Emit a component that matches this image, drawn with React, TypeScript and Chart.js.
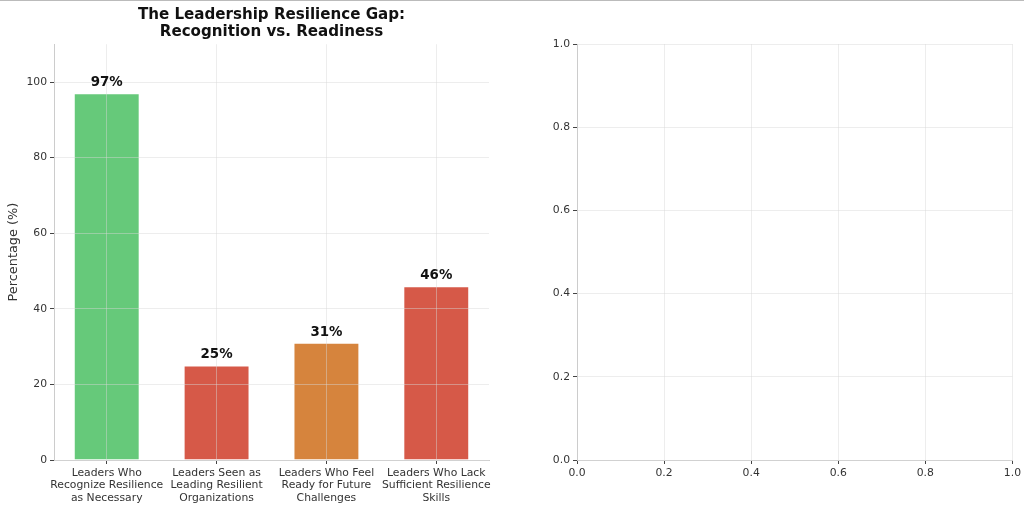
import { useEffect, useRef } from 'react';
import { Chart, registerables } from 'chart.js';

Chart.register(...registerables);

const categories = [
  ['Leaders Who', 'Recognize Resilience', 'as Necessary'],
  ['Leaders Seen as', 'Leading Resilient', 'Organizations'],
  ['Leaders Who Feel', 'Ready for Future', 'Challenges'],
  ['Leaders Who Lack', 'Sufficient Resilience', 'Skills'],
];
const percentages = [97, 25, 31, 46];
const barColors = ['rgb(102, 201, 122)', 'rgb(214, 89, 72)', 'rgb(214, 132, 61)', 'rgb(214, 89, 72)'];
const percentTicks = [0, 20, 40, 60, 80, 100];
const emptyTicks = [0, 0.2, 0.4, 0.6, 0.8, 1.0];

const FONT = "'DejaVu Sans', sans-serif";
const gridColor = 'rgba(215, 215, 215, 0.45)';
const spineColor = '#cccccc';
const tickText = '#333333';
const tickFont = { family: FONT, size: 10.8, lineHeight: 1.15 };

const valueLabels = {
  id: 'valueLabels',
  afterDraw(chart: any) {
    const { ctx } = chart;
    const meta = chart.getDatasetMeta(0);
    ctx.save();
    ctx.font = `bold 13.4px ${FONT}`;
    ctx.fillStyle = '#111111';
    ctx.textAlign = 'center';
    ctx.textBaseline = 'bottom';
    meta.data.forEach((bar: any, i: number) => {
      ctx.fillText(`${percentages[i]}%`, bar.x, bar.y - 4);
    });
    ctx.restore();
  },
};

// grid and spines sit above the bars, as in the reference
const gridStyle = { z: 1, color: gridColor, lineWidth: 1, tickLength: 4, tickColor: '#444444', drawTicks: true };
const borderStyle = { z: 1, display: true, color: spineColor, width: 1 };

function axisStyle(values: number[], fmt?: (v: number) => string) {
  return {
    grid: gridStyle,
    border: borderStyle,
    ticks: {
      color: tickText,
      font: tickFont,
      padding: 3,
      callback: fmt ? (v: any) => fmt(Number(v)) : undefined,
    },
    afterBuildTicks: (s: any) => {
      s.ticks = values.map(v => ({ value: v }));
    },
  };
}

export default function App() {
  const barRef = useRef<HTMLCanvasElement>(null);
  const emptyRef = useRef<HTMLCanvasElement>(null);
  const barChart = useRef<Chart | null>(null);
  const emptyChart = useRef<Chart | null>(null);

  useEffect(() => {
    if (barRef.current) {
      if (barChart.current) barChart.current.destroy();
      barChart.current = new Chart(barRef.current, {
        type: 'bar',
        data: {
          labels: categories,
          datasets: [{
            data: percentages,
            backgroundColor: barColors,
            borderColor: 'rgba(255, 255, 255, 0.6)',
            borderWidth: 1,
            barPercentage: 0.6,
            categoryPercentage: 1,
          }],
        },
        options: {
          responsive: false,
          animation: false,
          layout: { padding: { left: 0, right: 23, top: 0, bottom: 0 } },
          plugins: {
            legend: { display: false },
            tooltip: { enabled: false },
            title: {
              display: true,
              fullSize: false,
              text: ['The Leadership Resilience Gap:', 'Recognition vs. Readiness'],
              color: '#111111',
              font: { family: FONT, size: 15.1, weight: 'bold', lineHeight: 1.1 },
              padding: { top: 6, bottom: 4 },
            },
          },
          scales: {
            x: {
              type: 'category',
              offset: true,
              grid: { ...gridStyle, offset: false },
              border: borderStyle,
              ticks: {
                color: tickText,
                font: tickFont,
                padding: 3,
                maxRotation: 0,
                autoSkip: false,
              },
              // matplotlib-style margins: x range -0.48 .. 3.48
              afterBuildTicks: (s: any) => {
                s._startValue = -0.48;
                s._valueRange = categories.length - 1 + 0.96;
              },
              afterFit: (s: any) => { s.height = 49; },
            },
            y: {
              ...axisStyle(percentTicks),
              min: 0,
              max: 110,
              title: {
                display: true,
                text: 'Percentage (%)',
                color: tickText,
                font: { family: FONT, size: 12.9 },
                padding: { top: 6, bottom: 0 },
              },
              afterFit: (s: any) => { s.width = 54; },
            },
          },
        } as any,
        plugins: [valueLabels],
      });
    }

    if (emptyRef.current) {
      if (emptyChart.current) emptyChart.current.destroy();
      emptyChart.current = new Chart(emptyRef.current, {
        type: 'scatter',
        data: { datasets: [{ data: [] }] },
        options: {
          responsive: false,
          animation: false,
          layout: { padding: { left: 0, right: 11, top: 43, bottom: 0 } },
          plugins: { legend: { display: false }, tooltip: { enabled: false } },
          scales: {
            x: {
              ...axisStyle(emptyTicks, v => v.toFixed(1)),
              type: 'linear',
              min: 0,
              max: 1,
              afterFit: (s: any) => { s.height = 49; },
            },
            y: {
              ...axisStyle(emptyTicks, v => v.toFixed(1)),
              type: 'linear',
              min: 0,
              max: 1,
              afterFit: (s: any) => { s.width = 65; },
            },
          },
        } as any,
      });
    }

    return () => {
      if (barChart.current) { barChart.current.destroy(); barChart.current = null; }
      if (emptyChart.current) { emptyChart.current.destroy(); emptyChart.current = null; }
    };
  }, []);

  return (
    <div style={{ position: 'fixed', left: 0, top: 0, width: 1024, height: 509, background: '#ffffff', borderTop: '1px solid #bbbbbb', boxSizing: 'border-box' }}>
      <canvas ref={barRef} width={512} height={508} style={{ position: 'absolute', left: 0, top: 0, display: 'block' }} />
      <canvas ref={emptyRef} width={512} height={508} style={{ position: 'absolute', left: 512, top: 0, display: 'block' }} />
    </div>
  );
}
